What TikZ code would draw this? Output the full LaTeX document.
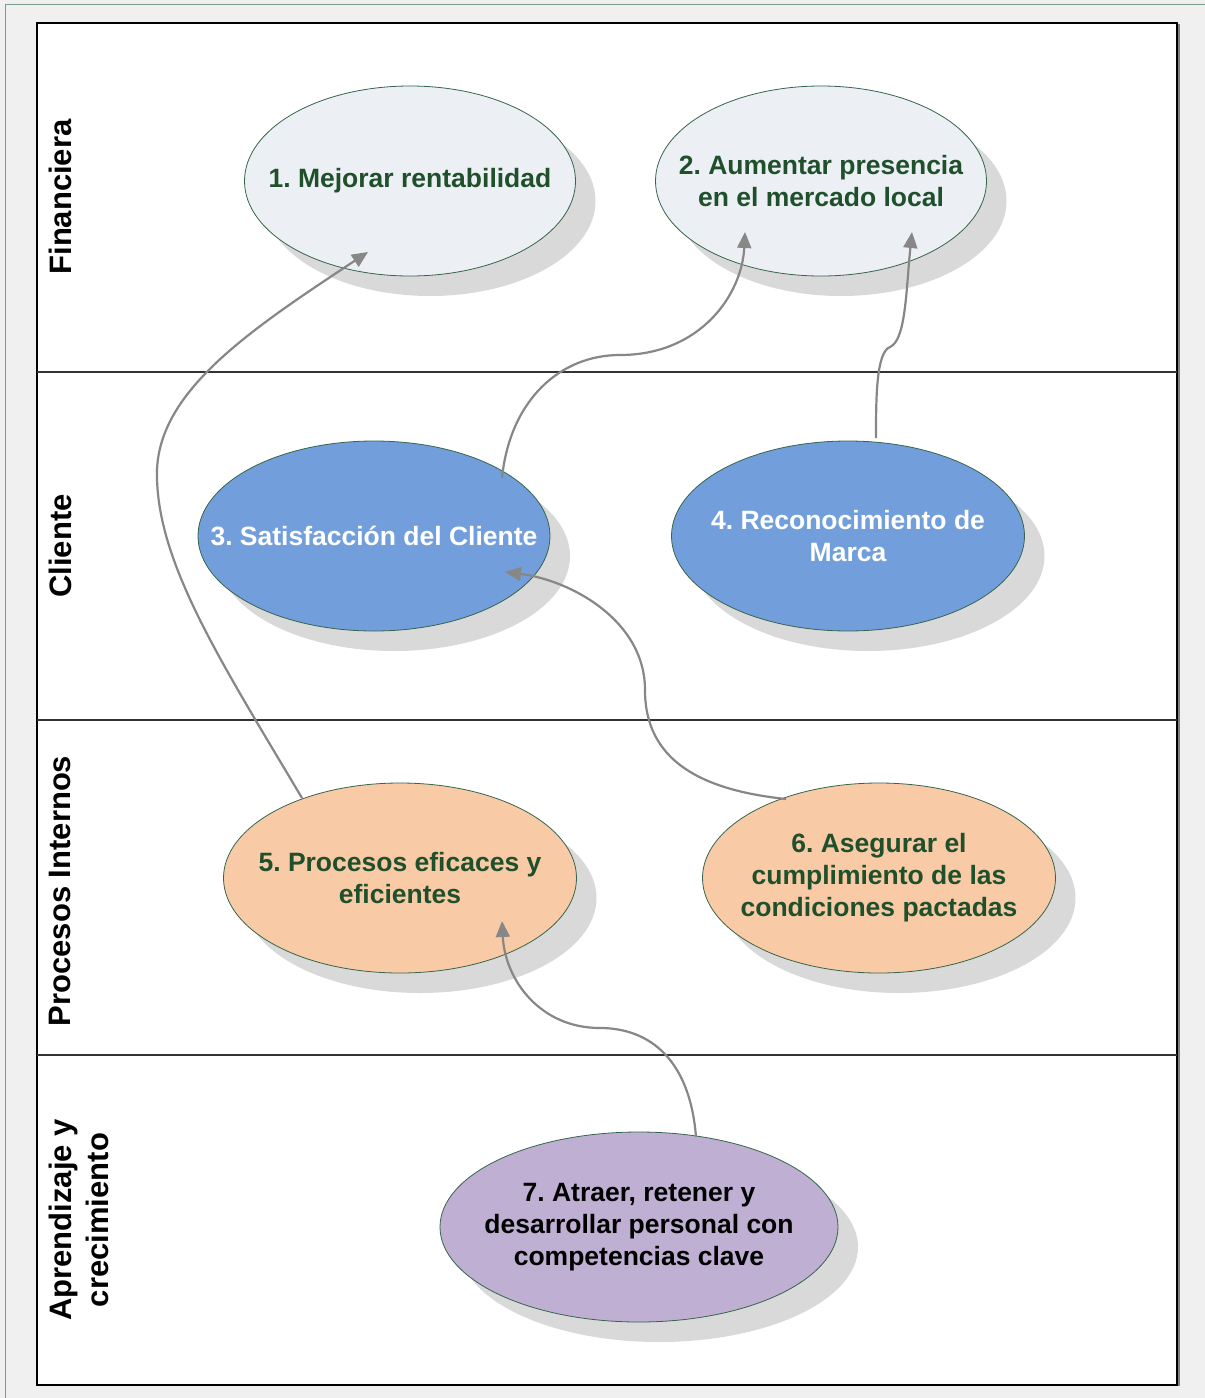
\documentclass[tikz,border=0pt]{standalone}
\usepackage{fontspec}
\setmainfont{Liberation Sans}
\frenchspacing
\usetikzlibrary{shapes.geometric,arrows.meta,calc,shadows}
\definecolor{bggray}{HTML}{F0F0F0}
\definecolor{framegreen}{HTML}{7A9E87}
\definecolor{txtgreen}{HTML}{1F4F2B}
\definecolor{edgegreen}{HTML}{35654A}
\definecolor{shgray}{HTML}{D9D9D9}
\definecolor{finfill}{HTML}{ECF0F5}
\definecolor{clifill}{HTML}{729FDB}
\definecolor{profill}{HTML}{F8CBA6}
\definecolor{aprfill}{HTML}{BFB0D3}
\definecolor{arrgray}{HTML}{878787}
\tikzset{
  x=1pt, y=-1pt,
  ell/.style={ellipse, draw=edgegreen, line width=0.8pt, inner sep=0pt,
    minimum height=190pt,
    drop shadow={shadow xshift=20pt, shadow yshift=-20pt, fill=shgray, opacity=1}},
  etext/.style={align=center, inner sep=0pt, font=\fontsize{26.5}{32}\selectfont\bfseries},
  lane/.style={rotate=90, align=center, font=\fontsize{31}{37}\selectfont\bfseries, text=black},
  conn/.style={draw=arrgray, line width=2.2pt, -{Triangle[length=16pt,width=14pt]}},
  sep/.style={draw=black!80, line width=1.4pt}
}
\begin{document}
\begin{tikzpicture}
\useasboundingbox (0,0) rectangle (1205,1398);
% outer frame
\fill[bggray] (0,0) rectangle (1205,1398);
\draw[framegreen, line width=1.5pt] (5.5,1398) -- (5.5,4.5) -- (1205,4.5);
% inner white area
\fill[white] (37,23) rectangle (1177,1385);
\draw[gray, line width=1.5pt] (1179,24) -- (1179,1386);
\draw[black, line width=1.3pt] (37,23) rectangle (1177,1385);
% lane separators
\draw[sep] (37,372) -- (1177,372);
\draw[sep] (37,720) -- (1177,720);
\draw[sep] (37,1055) -- (1177,1055);
% lane labels
\node[lane] (l1) at (60,197) {Financiera};
\node[lane] (l2) at (60,546) {Cliente};
\node[lane] (l3) at (60,891) {Procesos Internos};
\node[lane] (l4) at (79,1220) {Aprendizaje y\\crecimiento};
% objectives
\node[ell, fill=finfill, minimum width=331pt] (e1) at (410,181) {};
\node[ell, fill=finfill, minimum width=331pt] (e2) at (821,181) {};
\node[ell, fill=clifill, minimum width=352pt] (e3) at (374,536) {};
\node[ell, fill=clifill, minimum width=353pt] (e4) at (848,536) {};
\node[ell, fill=profill, minimum width=353pt] (e5) at (400,878) {};
\node[ell, fill=profill, minimum width=353pt] (e6) at (879,878) {};
\node[ell, fill=aprfill, minimum width=398pt] (e7) at (639,1227) {};
\node[etext, text=txtgreen] (t1) at (e1) {1. Mejorar rentabilidad};
\node[etext, text=txtgreen] (t2) at (e2) {2. Aumentar presencia\\en el mercado local};
\node[etext, text=white] (t3) at (e3) {3. Satisfacción del Cliente};
\node[etext, text=white] (t4) at (e4) {4. Reconocimiento de\\Marca};
\node[etext, text=txtgreen] (t5) at (e5) {5. Procesos eficaces y\\eficientes};
\node[etext, text=txtgreen] (t6) at (e6) {6. Asegurar el\\cumplimiento de las\\condiciones pactadas};
\node[etext, text=black] (t7) at (e7) {7. Atraer, retener y\\desarrollar personal con\\competencias clave};
% connectors
\draw[conn] ($(e5.center)+(-98,-80)$) .. controls (220,660) and (155,560) .. (157,470)
  .. controls (160,390) and (250,330) .. ($(e1.center)+(-42,71)$);
\draw[conn] ($(e3.center)+(128,-58)$) .. controls (510,400) and (560,355) .. (620,355)
  .. controls (700,355) and (742,295) .. ($(e2.center)+(-76,51)$);
\draw[conn] ($(e4.center)+(28,-98)$) .. controls (876,400) and (876,352) .. (890,347)
  .. controls (906,340) and (906,290) .. ($(e2.center)+(91,51)$);
\draw[conn] ($(e6.center)+(-93,-79)$) .. controls (700,790) and (645,760) .. (645,690)
  .. controls (645,620) and (570,580) .. ($(e3.center)+(131,36)$);
\draw[conn] ($(e7.center)+(57,-90)$) .. controls (690,1060) and (650,1028) .. (600,1028)
  .. controls (540,1028) and (505,980) .. ($(e5.center)+(102,43)$);
\end{tikzpicture}
\end{document}
